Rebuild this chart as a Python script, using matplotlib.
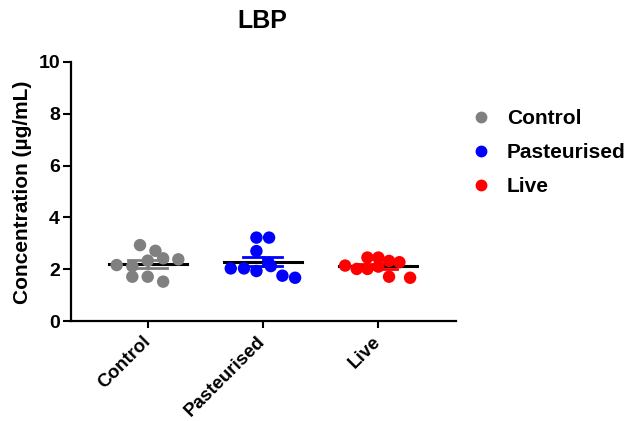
import matplotlib
matplotlib.use("Agg")
import matplotlib.pyplot as plt
from matplotlib.lines import Line2D
import numpy as np

# === Data ===

groups = ["Control", "Pasteurised", "Live"]
colors = ["#808080", "#0000FF", "#FF0000"]

control_vals = [2.16, 2.12, 1.71, 2.93, 2.33, 1.71, 2.71, 2.42, 1.52, 2.38]
control_jitter = [-0.27, -0.134, -0.134, -0.067, 0.0, 0.0, 0.067, 0.134, 0.134, 0.266]

pasteurised_vals = [3.22, 3.22, 2.70, 2.25, 2.12, 2.03, 2.03, 1.93, 1.75, 1.67]
pasteurised_jitter = [-0.055, 0.055, -0.055, 0.05, 0.07, -0.278, -0.163, -0.055, 0.171, 0.281]

live_vals = [2.14, 2.01, 2.45, 2.01, 2.45, 2.10, 2.32, 1.71, 2.27, 1.67]
live_jitter = [-0.284, -0.183, -0.09, -0.09, 0.005, 0.005, 0.098, 0.098, 0.188, 0.281]

all_vals = [control_vals, pasteurised_vals, live_vals]
all_jitter = [control_jitter, pasteurised_jitter, live_jitter]

yticks = [0, 2, 4, 6, 8, 10]

# === Plot ===

plt.rcParams['font.family'] = ['Liberation Sans', 'DejaVu Sans']
plt.rcParams['font.weight'] = 'bold'

fig = plt.figure(figsize=(6.27, 4.21), dpi=100)
ax = fig.add_axes([71 / 627, 1 - 321 / 421, (456 - 71) / 627, (321 - 62) / 421])

MEAN_HALF = 0.34
CAP_HALF = 0.17

for i, (vals, jit, col) in enumerate(zip(all_vals, all_jitter, colors)):
    vals = np.array(vals)
    mean = vals.mean()
    sem = vals.std(ddof=1) / np.sqrt(len(vals))
    # error bar (SEM) in group colour
    ax.plot([i, i], [mean - sem, mean + sem], color=col, lw=2, zorder=2)
    ax.plot([i - CAP_HALF, i + CAP_HALF], [mean + sem] * 2, color=col, lw=2, zorder=2)
    ax.plot([i - CAP_HALF, i + CAP_HALF], [mean - sem] * 2, color=col, lw=2, zorder=2)
    # mean line
    ax.plot([i - MEAN_HALF, i + MEAN_HALF], [mean, mean], color="black", lw=2.2, zorder=2)
    # points
    ax.scatter(i + np.array(jit), vals, s=80, color=col, edgecolors='none', zorder=3)

ax.set_xlim(-0.667, 2.68)
ax.set_ylim(0, 10)
ax.set_yticks(yticks)
ax.set_yticklabels([str(t) for t in yticks], fontsize=14, fontweight='bold')
ax.set_xticks(range(len(groups)))
ax.set_xticklabels(groups, fontsize=13.5, fontweight='bold', rotation=45,
                   ha='right', va='center', rotation_mode='anchor')

for side in ['top', 'right']:
    ax.spines[side].set_visible(False)
for side in ['left', 'bottom']:
    ax.spines[side].set_linewidth(1.6)
ax.tick_params(axis='y', length=6, width=1.5, pad=2)
ax.tick_params(axis='x', length=5, width=1.5, pad=8)

fig.text(262 / 627, 1 - 21 / 421, "LBP", fontsize=18, fontweight='bold',
         ha='center', va='center')
fig.text(23 / 627, 1 - 192 / 421, "Concentration (µg/mL)", fontsize=15,
         fontweight='bold', rotation=90, ha='center', va='center')

handles = [Line2D([], [], marker='o', linestyle='none', color=c, markersize=7.5)
           for c in colors]
fig.legend(handles, groups, loc='upper left', bbox_to_anchor=(460 / 627, 1 - 99 / 421),
           frameon=False, prop={'size': 15, 'weight': 'bold'},
           handletextpad=0.75, labelspacing=0.72, borderpad=0, handlelength=1.0)

plt.savefig("out.png", dpi=100)
